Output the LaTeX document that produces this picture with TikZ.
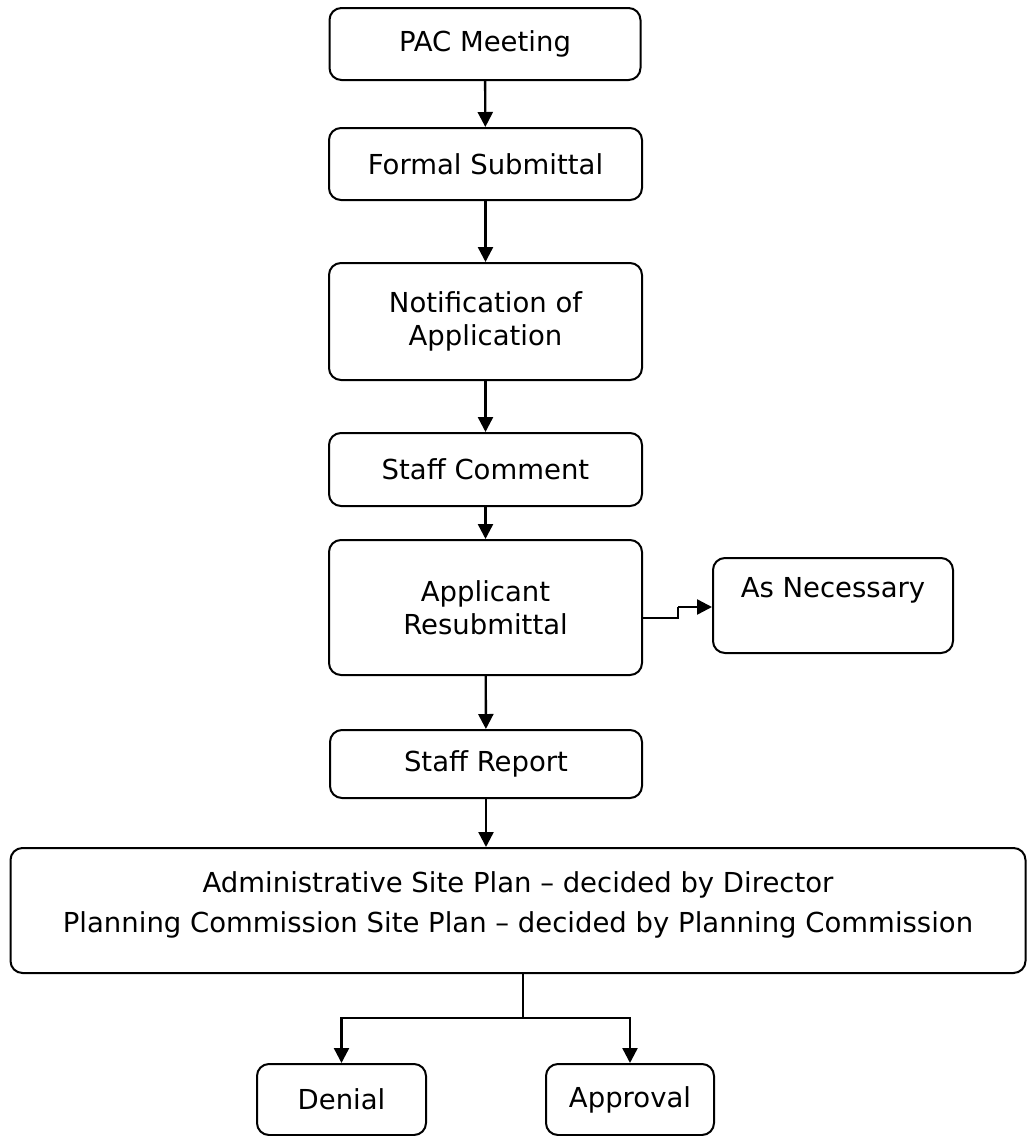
\documentclass[tikz,border=0pt]{standalone}
\usepackage{fontspec}
\setmainfont{DejaVu Sans}
\usetikzlibrary{arrows.meta}
\begin{document}
\begin{tikzpicture}[x=1pt,y=-1pt,
  box/.style={draw, line width=2pt, rounded corners=12pt, align=center,
    inner sep=0pt, font=\fontsize{27.5}{33}\selectfont},
  arr/.style={line width=2.4pt, -{Triangle[length=15pt,width=15pt]}},
  lnk/.style={line width=2.4pt}]
\useasboundingbox (0,0) rectangle (1027,1136);
\node[box, minimum width=311pt, minimum height=72pt] (pac) at (485,44) {PAC Meeting};
\node[box, minimum width=313pt, minimum height=72pt] (formal) at (485.5,164) {Formal Submittal};
\node[box, minimum width=313pt, minimum height=117pt] (notif) at (485.5,321.5) {Notification of\\Application};
\node[box, minimum width=313pt, minimum height=73pt] (comment) at (485.5,469.5) {Staff Comment};
\node[box, minimum width=313pt, minimum height=135pt] (appl) at (485.5,607.5) {Applicant\\Resubmittal};
\node[box, minimum width=240pt, minimum height=95pt,
  label={[yshift=15pt, font=\fontsize{27.5}{33}\selectfont]center:As Necessary}] (asnec) at (833,605.5) {};
\node[box, minimum width=312pt, minimum height=68pt] (report) at (486,764) {Staff Report};
\node[box, minimum width=1015pt, minimum height=125pt,
  label={[yshift=6pt, align=center, font=\fontsize{27.5}{40}\selectfont]center:Administrative Site Plan -- decided by Director\\Planning Commission Site Plan -- decided by Planning Commission}] (big) at (518,910.5) {};
\node[box, minimum width=169pt, minimum height=71pt] (denial) at (341.5,1099.5) {Denial};
\node[box, minimum width=168pt, minimum height=71pt] (approval) at (630,1099.5) {Approval};
\coordinate (split) at (523,1018);
\coordinate (stepa) at (678,618);
\coordinate (stepb) at (678,607);

\draw[arr] (pac) -- (formal);
\draw[arr] (formal) -- (notif);
\draw[arr] (notif) -- (comment);
\draw[arr] (comment) -- (appl);
\draw[arr] (appl) -- (report);
\draw[arr] (report) -- (report |- big.north);
\draw[lnk] (appl.east |- stepa) -- (stepa) -- (stepb);
\draw[arr] (stepb) -- (asnec.west |- stepb);
\draw[lnk] (big.south -| split) -- (split);
\draw[arr] (split) -| (denial);
\draw[arr] (split) -| (approval);
\end{tikzpicture}
\end{document}
